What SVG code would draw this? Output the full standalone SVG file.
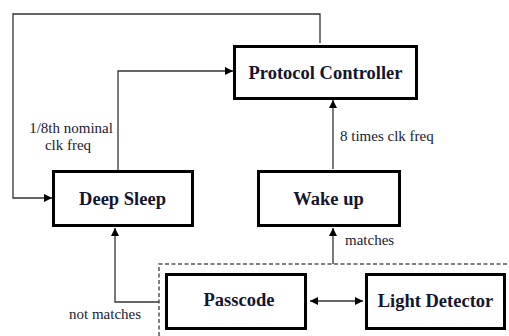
<svg xmlns="http://www.w3.org/2000/svg" width="509" height="336" viewBox="0 0 509 336">
<style>
.box{fill:#fff;stroke:#000;stroke-width:3}
.lbl{font-family:"Liberation Serif","Times New Roman",serif;font-weight:bold;font-size:18.5px;fill:#151530;text-anchor:middle}
.sm{font-family:"Liberation Serif","Times New Roman",serif;font-size:15px;fill:#1a1a30}
.con{fill:none;stroke:#333;stroke-width:1.3}
.dash{fill:none;stroke:#555;stroke-width:1.5;stroke-dasharray:4 2.5}
</style>
<defs>
<marker id="ah" viewBox="0 0 10 10" refX="10" refY="5" markerWidth="9" markerHeight="8" markerUnits="userSpaceOnUse" orient="auto-start-reverse">
<path d="M0,0 L10,5 L0,10 z" fill="#000"/>
</marker>
</defs>
<rect width="509" height="336" fill="#fff"/>
<g id="group-dashed">
<path class="dash" d="M159,336 V264 H509"/>
</g>
<g id="connectors">
<path class="con" d="M320,43 V14 H13 V198 H52" marker-end="url(#ah)"/>
<path class="con" d="M118,171 V71 H233" marker-end="url(#ah)"/>
<path class="con" d="M333,169 V100" marker-end="url(#ah)"/>
<path class="con" d="M333,264 V228" marker-end="url(#ah)"/>
<path class="con" d="M159,302 H115 V228" marker-end="url(#ah)"/>
<path class="con" d="M310,301 H363" marker-start="url(#ah)" marker-end="url(#ah)"/>
<text class="sm" x="71" y="133" text-anchor="middle">1/8th nominal</text>
<text class="sm" x="68" y="150" text-anchor="middle">clk freq</text>
<text class="sm" x="340" y="141">8 times clk freq</text>
<text class="sm" x="345" y="245">matches</text>
<text class="sm" x="69" y="319">not matches</text>
</g>
<g id="protocol-controller">
<rect class="box" x="234.5" y="46.5" width="182" height="52"/>
<text class="lbl" x="325.5" y="78.5">Protocol Controller</text>
</g>
<g id="deep-sleep">
<rect class="box" x="53.5" y="171.5" width="139" height="54"/>
<text class="lbl" x="122.5" y="205">Deep Sleep</text>
</g>
<g id="wake-up">
<rect class="box" x="258.5" y="171.5" width="141" height="54"/>
<text class="lbl" x="328.5" y="205">Wake up</text>
</g>
<g id="passcode">
<rect class="box" x="166.5" y="274.5" width="139" height="54"/>
<text class="lbl" x="239" y="306">Passcode</text>
</g>
<g id="light-detector">
<rect class="box" x="366.5" y="274.5" width="138" height="54"/>
<text class="lbl" x="435.5" y="307">Light Detector</text>
</g>
</svg>
